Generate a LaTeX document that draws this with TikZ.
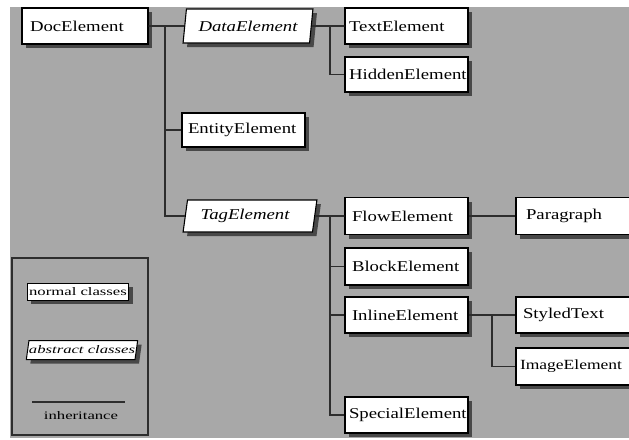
\documentclass[tikz,border=0pt]{standalone}
\usepackage{fontspec}
\setmainfont[FakeStretch=1.25]{Liberation Serif}
\newfontfamily\legendfont[FakeStretch=1.45]{Liberation Serif}
\usetikzlibrary{shapes.geometric,shadows}
\definecolor{bggray}{RGB}{168,168,168}
\definecolor{shadowgray}{RGB}{72,72,72}
\definecolor{linegray}{RGB}{45,45,45}
\tikzset{
  shad/.style={drop shadow={shadow xshift=4pt, shadow yshift=-4pt, fill=shadowgray, opacity=1}},
  cls/.style={draw=black, line width=1.1pt, fill=white, shad, rectangle,
    minimum height=36pt, text width=115pt, inner xsep=4pt, inner ysep=0pt, align=left,
    font=\fontsize{15}{17}\selectfont},
  abs/.style={draw=black, line width=1.1pt, fill=white, shad, trapezium,
    trapezium left angle=75, trapezium right angle=105, trapezium stretches=true,
    minimum height=34pt, inner xsep=2pt, inner ysep=0pt,
    font=\fontsize{15}{17}\selectfont\itshape},
  conn/.style={draw=linegray, line width=1.6pt},
  lcls/.style={draw=black, line width=1pt, fill=white, shad, rectangle,
    minimum height=17pt, minimum width=100pt, inner xsep=2pt, inner ysep=0pt,
    font=\legendfont\fontsize{11.5}{12}\selectfont},
  labs/.style={draw=black, line width=1pt, fill=white, shad, trapezium,
    trapezium left angle=72, trapezium right angle=108, trapezium stretches=true,
    minimum height=19pt, minimum width=110pt, inner xsep=0pt, inner ysep=0pt,
    font=\legendfont\fontsize{11.5}{12}\selectfont\itshape},
}
\begin{document}
\begin{tikzpicture}[x=1pt,y=-1pt]
\useasboundingbox (0,0) rectangle (629,439);
\clip (0,0) rectangle (629,439);
\fill[white] (0,0) rectangle (629,439);
\fill[bggray] (10,7) rectangle (629,438);

% nodes
\node[cls, text width=118pt] (doc) at (85,26) {\hspace*{4pt}DocElement};
\node[abs, minimum width=130pt] (data) at (248,26) {DataElement};
\node[cls] (text) at (406.5,26) {TextElement};
\node[cls, minimum height=35pt] (hidden) at (406.5,74.5) {HiddenElement};
\node[cls, minimum height=34pt] (ent) at (243.5,130) {\hspace*{2pt}EntityElement};
\node[abs, minimum width=134pt, minimum height=32pt] (tag) at (250,216) {TagElement\hspace*{10pt}};
\node[cls, minimum height=37pt] (flow) at (406.5,216) {\hspace*{3pt}FlowElement};
\node[cls, minimum height=37pt] (block) at (406.5,266.5) {\hspace*{3pt}BlockElement};
\node[cls] (inline) at (406.5,315) {\hspace*{3pt}InlineElement};
\node[cls] (special) at (406.5,415) {SpecialElement};
\node[cls, minimum height=37pt] (para) at (577.5,216) {\hspace*{6pt}Paragraph};
\node[cls] (styled) at (577.5,315) {\hspace*{3pt}StyledText};
\node[cls, minimum height=37pt, font=\fontsize{14}{17}\selectfont] (image) at (577.5,366.5) {ImageElement};

% connectors
\coordinate (t1) at (165,26);
\coordinate (t2) at (330,26);
\coordinate (t3) at (330,216);
\coordinate (t4) at (492,315);
\draw[conn] (doc.east) -- (data.west);
\draw[conn] (t1) |- (tag.west);
\draw[conn] (t1 |- ent.west) -- (ent.west);
\draw[conn] (data.east) -- (text.west);
\draw[conn] (t2) |- (hidden.west);
\draw[conn] (tag.east) -- (flow.west);
\draw[conn] (t3) |- (special.west);
\draw[conn] (t3 |- block.west) -- (block.west);
\draw[conn] (t3 |- inline.west) -- (inline.west);
\draw[conn] (flow.east) -- (para.west);
\draw[conn] (inline.east) -- (styled.west);
\draw[conn] (t4) |- (image.west);

% legend
\node[draw=linegray, line width=1.3pt, minimum width=136pt, minimum height=177pt, inner sep=0pt] (legend) at (80,346.5) {};
\node[lcls] (lnorm) at (78,291.5) {normal classes};
\node[labs] (labs) at (82,350) {abstract classes};
\coordinate (la) at (32,402);
\coordinate (lb) at (125,402);
\draw[conn, line width=1.2pt] (la) -- (lb);
\node[font=\legendfont\fontsize{11.5}{12}\selectfont, inner sep=0pt] (linh) at (81,416) {inheritance};
\end{tikzpicture}
\end{document}
